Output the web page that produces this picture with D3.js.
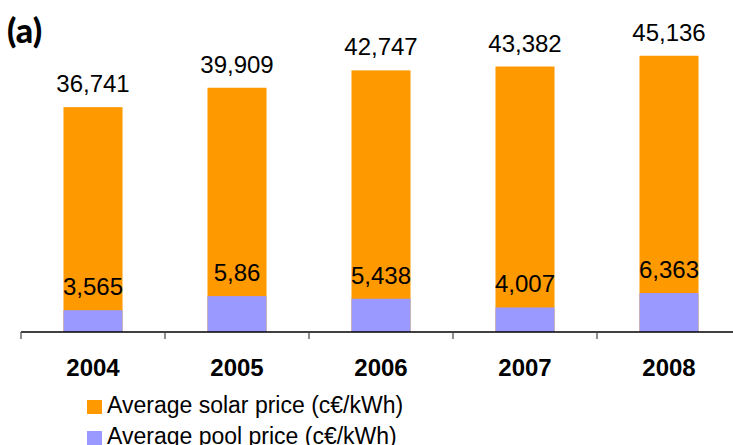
<!DOCTYPE html>
<html><head><meta charset="utf-8">
<script src="https://cdn.jsdelivr.net/npm/d3@7"></script>
<style>html,body{margin:0;padding:0;background:#fff;}svg{display:block;}</style>
</head><body>
<svg id="chart" width="733" height="445"></svg>
<script>
const years = ["2004","2005","2006","2007","2008"];
const solarPrice = [36.741, 39.909, 42.747, 43.382, 45.136];
const poolPrice = [3.565, 5.86, 5.438, 4.007, 6.363];
const seriesNames = ["Average solar price (c€/kWh)", "Average pool price (c€/kWh)"];
const colors = ["#FF9900", "#9999FF"];

const svg = d3.select("#chart");
const baseY = 332;
const x = d3.scaleBand().domain(years).range([21, 741]).paddingInner(0.59).paddingOuter(0.295);
const y = d3.scaleLinear().domain([0, 50]).range([baseY, 26]);
const fmt = v => String(v).replace(".", ",");
const font = "'Liberation Sans', Arial, sans-serif";

// bars
svg.selectAll("rect.solar").data(years).enter().append("rect")
  .attr("x", d => x(d)).attr("width", x.bandwidth())
  .attr("y", (d,i) => y(solarPrice[i])).attr("height", (d,i) => baseY - y(solarPrice[i]))
  .attr("fill", colors[0]);
svg.selectAll("rect.pool").data(years).enter().append("rect")
  .attr("x", d => x(d)).attr("width", x.bandwidth())
  .attr("y", (d,i) => y(poolPrice[i])).attr("height", (d,i) => baseY - y(poolPrice[i]))
  .attr("fill", colors[1]);

// value labels
[solarPrice, poolPrice].forEach(arr => {
  svg.selectAll(null).data(years).enter().append("text")
    .attr("x", d => x(d) + x.bandwidth()/2)
    .attr("y", (d,i) => y(arr[i]) - 15)
    .attr("text-anchor", "middle")
    .attr("font-family", font).attr("font-size", 24).attr("fill", "#000")
    .text((d,i) => fmt(arr[i]));
});

// axis
svg.append("line").attr("x1", 21).attr("x2", 741).attr("y1", baseY).attr("y2", baseY)
  .attr("stroke", "#000").attr("stroke-width", 1.5);
const step = x.step();
years.forEach((d,i) => {
  const tx = 21 + i*step;
  svg.append("line").attr("x1", tx).attr("x2", tx).attr("y1", baseY).attr("y2", baseY+7)
    .attr("stroke", "#444").attr("stroke-width", 1.2);
});
svg.selectAll("text.cat").data(years).enter().append("text")
  .attr("x", d => x(d) + x.bandwidth()/2).attr("y", 376)
  .attr("text-anchor", "middle").attr("font-family", font).attr("font-weight", "bold")
  .attr("font-size", 24).attr("fill", "#000").text(d => d);

// legend
seriesNames.forEach((n,i) => {
  const ly = 400 + i*31;
  svg.append("rect").attr("x", 87).attr("y", ly).attr("width", 15).attr("height", 14).attr("fill", colors[i]);
  svg.append("text").attr("x", 107).attr("y", ly + 13).attr("font-family", font)
    .attr("font-size", 23).attr("fill", "#000").text(n);
});

// panel label
svg.append("text").attr("x", 7).attr("y", 43).attr("font-family", "Lato, 'Open Sans', sans-serif")
  .attr("font-weight", 900).attr("font-size", 34).attr("fill", "#000").text("(a)");
</script>
</body></html>
